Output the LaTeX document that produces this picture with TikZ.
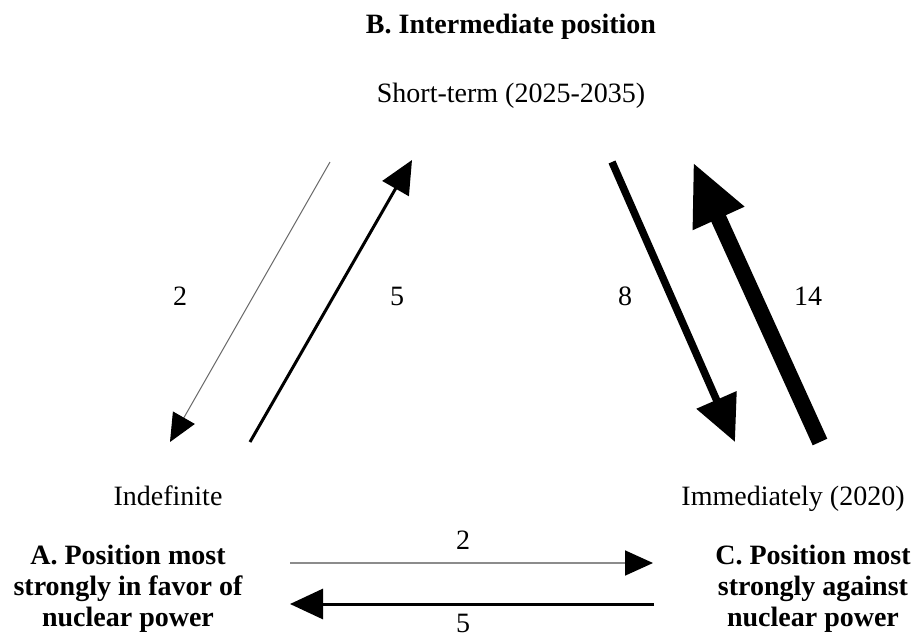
\documentclass[tikz,border=0pt]{standalone}
\usepackage{fontspec}
\setmainfont{Liberation Serif}
\usetikzlibrary{arrows.meta, positioning}

\begin{document}
\begin{tikzpicture}[
    x = 1pt, y = -1pt, % pixel units, y runs downwards
    inner sep = 0pt, % text only, no padding
    font = \fontsize{28}{31}\selectfont, % body text
    line cap = butt
  ]

  \tikzstyle{txt}=[text height=19pt, text depth=6pt]
  \tikzstyle{posbox}=[font=\bfseries\fontsize{28}{31}\selectfont, align=center]
  \tikzstyle{w2}=[draw=black!60, line width=1pt, -{Triangle[length=28pt, width=25pt, color=black]}]
  \tikzstyle{w2h}=[draw=black!45, line width=1.8pt, -{Triangle[length=28pt, width=25pt, color=black]}]
  \tikzstyle{w5}=[draw=black, line width=3pt, -{Triangle[length=33pt, width=30pt]}]
  \tikzstyle{w8}=[draw=black, line width=7.5pt, -{Triangle[length=46pt, width=42pt]}]
  \tikzstyle{w14}=[draw=black, line width=16pt, -{Triangle[length=62pt, width=52pt]}]

  \useasboundingbox (0,0) rectangle (916,638);

  % position B and its time
  \node[txt, font=\bfseries\fontsize{28}{31}\selectfont] (posB) at (511,26.5) {B. Intermediate position};
  \node[txt] (short) [below of=posB, node distance=69pt] {Short-term (2025-2035)};

  % positions A and C
  \node[txt] (indef) at (168,498.5) {Indefinite};
  \node[txt] (immed) [right of=indef, node distance=625pt] {Immediately (2020)};
  \node[posbox] (posA) at (128,589) {A. Position most\\strongly in favor of\\nuclear power};
  \node[posbox] (posC) at (813,589) {C. Position most\\strongly against\\nuclear power};

  % counts
  \node[txt] (nba) at (180,298.5) {2};
  \node[txt] (nab) [right of=nba, node distance=217pt] {5};
  \node[txt] (nbc) [right of=nab, node distance=228pt] {8};
  \node[txt] (ncb) [right of=nbc, node distance=183pt] {14};
  \node[txt] (nac) at (463,542.5) {2};
  \node[txt] (nca) [below of=nac, node distance=83pt] {5};

  % arrow ends
  \coordinate (ba-from) at (330,162);
  \coordinate (ba-to) at (170,442);
  \coordinate (ab-from) at (250,442);
  \coordinate (ab-to) at (412,160);
  \coordinate (bc-from) at (612,162);
  \coordinate (bc-to) at (735,442);
  \coordinate (cb-from) at (820,442);
  \coordinate (cb-to) at (693,162);
  \coordinate (ac-from) at (290,563);
  \coordinate (ac-to) at (653,563);
  \coordinate (ca-from) at (654,604);
  \coordinate (ca-to) at (290,604);

  \draw[w2] (ba-from) -- (ba-to);
  \draw[w5] (ab-from) -- (ab-to);
  \draw[w8] (bc-from) -- (bc-to);
  \draw[w14] (cb-from) -- (cb-to);
  \draw[w2h] (ac-from) -- (ac-to);
  \draw[w5] (ca-from) -- (ca-to);

\end{tikzpicture}
\end{document}
